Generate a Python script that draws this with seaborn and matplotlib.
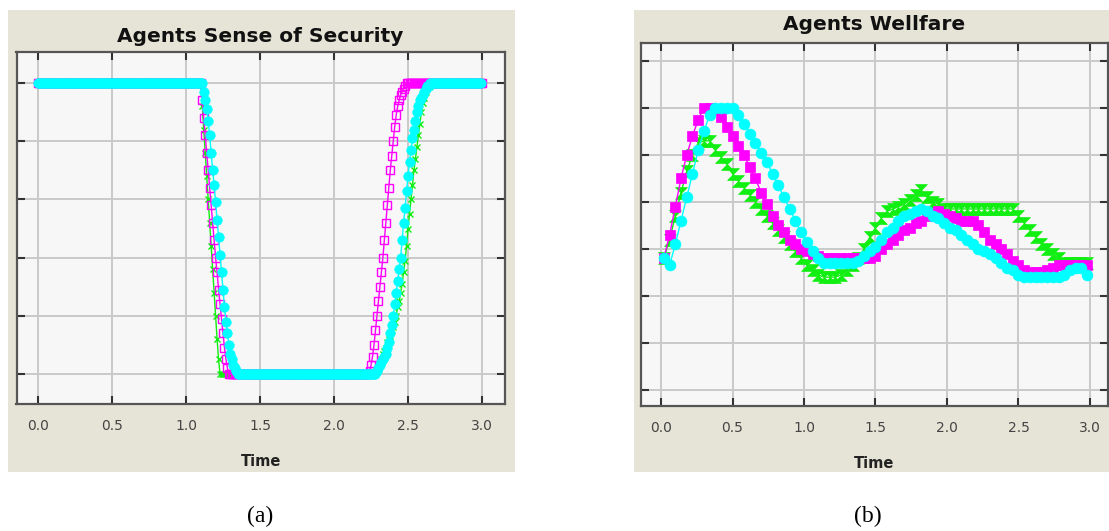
import numpy as np
import pandas as pd
import matplotlib
matplotlib.use("Agg")
import matplotlib.pyplot as plt
from matplotlib.patches import Rectangle
import seaborn as sns

# ---------------------------
# Data
# ---------------------------

# (a) sense of security, sampled every 0.01 time units
sec_time = np.round(np.arange(0, 301) * 0.01, 2)

sec_magenta = ([1.0] * 111
               + [0.94, 0.88, 0.82, 0.76, 0.70, 0.64, 0.58, 0.52, 0.46, 0.40,
                  0.35, 0.29, 0.24, 0.19, 0.14, 0.09, 0.05, 0.02]
               + [0.0] * 95
               + [0.01, 0.03, 0.06, 0.10, 0.15, 0.20, 0.25, 0.30, 0.35, 0.40,
                  0.46, 0.52, 0.58, 0.64, 0.70, 0.75, 0.80, 0.85, 0.89, 0.92,
                  0.94, 0.96, 0.97, 0.98, 0.99, 1.0]
               + [1.0] * 51)

sec_green = ([1.0] * 111
             + [0.92, 0.84, 0.76, 0.68, 0.60, 0.52, 0.44, 0.36, 0.28, 0.20,
                0.12, 0.05, 0.0]
             + [0.0] * 104
             + [0.00, 0.01, 0.02, 0.04, 0.05, 0.07, 0.08, 0.09, 0.11, 0.12,
                0.13, 0.15, 0.16, 0.18, 0.20, 0.23, 0.25, 0.28, 0.31, 0.35,
                0.39, 0.44, 0.50, 0.55, 0.60, 0.65, 0.70, 0.74, 0.78, 0.82,
                0.86, 0.90, 0.93, 0.95, 0.97, 0.99, 1.00]
             + [1.0] * 36)

sec_cyan = ([1.0] * 112
            + [0.97, 0.94, 0.91, 0.87, 0.82, 0.76, 0.70, 0.65, 0.59, 0.53,
               0.47, 0.41, 0.35, 0.29, 0.23, 0.18, 0.14, 0.10, 0.07, 0.05,
               0.03, 0.02, 0.01, 0.0]
            + [0.0] * 92
            + [0.00, 0.01, 0.02, 0.03, 0.04, 0.05, 0.06, 0.07, 0.09, 0.11,
               0.14, 0.17, 0.20, 0.24, 0.28, 0.32, 0.36, 0.40, 0.46, 0.52,
               0.57, 0.63, 0.68, 0.73, 0.77, 0.81, 0.84, 0.87, 0.90, 0.92,
               0.94, 0.95, 0.96, 0.97, 0.98, 0.99, 0.99, 1.00]
            + [1.0] * 34)

# (b) welfare, sampled every 0.04 time units starting at 0.02
wel_time = np.round(0.02 + np.arange(75) * 0.04, 2)

wel_magenta = [2.8, 3.3, 3.9, 4.5, 5.0, 5.4, 5.75, 6.0, 6.0, 5.95,
               5.8, 5.6, 5.4, 5.2, 5.0, 4.75, 4.5, 4.2, 3.95, 3.7,
               3.5, 3.35, 3.2, 3.1, 3.0, 2.95, 2.9, 2.85, 2.8, 2.8,
               2.8, 2.8, 2.8, 2.8, 2.8, 2.8, 2.8, 2.85, 3.0, 3.1,
               3.2, 3.3, 3.4, 3.45, 3.55, 3.6, 3.7, 3.75, 3.8, 3.75,
               3.7, 3.65, 3.6, 3.6, 3.6, 3.5, 3.35, 3.2, 3.1, 3.0,
               2.9, 2.75, 2.65, 2.55, 2.5, 2.5, 2.5, 2.55, 2.6, 2.65,
               2.65, 2.65, 2.65, 2.65, 2.65]

wel_green = [2.8, 3.2, 3.7, 4.2, 4.65, 5.0, 5.25, 5.3, 5.3, 5.1,
             4.95, 4.8, 4.6, 4.45, 4.3, 4.15, 4.0, 3.85, 3.7, 3.55,
             3.4, 3.25, 3.1, 2.95, 2.8, 2.65, 2.55, 2.45, 2.4, 2.4,
             2.4, 2.45, 2.55, 2.65, 2.8, 3.0, 3.25, 3.45, 3.65, 3.8,
             3.85, 3.9, 3.95, 4.05, 4.15, 4.25, 4.1, 4.0, 3.95, 3.85,
             3.85, 3.85, 3.85, 3.85, 3.85, 3.85, 3.85, 3.85, 3.85, 3.85,
             3.85, 3.85, 3.7, 3.55, 3.4, 3.25, 3.1, 3.0, 2.9, 2.8,
             2.7, 2.7, 2.7, 2.7, 2.7]

wel_cyan = [2.8, 2.65, 3.1, 3.6, 4.1, 4.6, 5.1, 5.5, 5.85, 6.0,
            6.0, 6.0, 6.0, 5.85, 5.65, 5.45, 5.25, 5.05, 4.85, 4.6,
            4.35, 4.1, 3.85, 3.6, 3.35, 3.15, 2.95, 2.8, 2.7, 2.7,
            2.7, 2.7, 2.7, 2.7, 2.75, 2.85, 2.95, 3.05, 3.2, 3.35,
            3.45, 3.6, 3.7, 3.75, 3.8, 3.85, 3.8, 3.7, 3.65, 3.55,
            3.45, 3.4, 3.3, 3.2, 3.1, 3.0, 2.95, 2.9, 2.8, 2.7,
            2.6, 2.55, 2.45, 2.4, 2.4, 2.4, 2.4, 2.4, 2.4, 2.4,
            2.45, 2.55, 2.6, 2.6, 2.45]

x_ticks = [0.0, 0.5, 1.0, 1.5, 2.0, 2.5, 3.0]
sec_yticks = [0.0, 0.2, 0.4, 0.6, 0.8, 1.0]
wel_yticks = [0, 1, 2, 3, 4, 5, 6, 7]

MAGENTA = "#ff00ff"
GREEN = "#11ee11"
CYAN = "#00ffff"
BEIGE = "#e6e4d6"
HOURGLASS = [(-1, 1), (1, 1), (-1, -1), (1, -1), (-1, 1)]

# ---------------------------
# Figure
# ---------------------------
sns.set_style("whitegrid")
W, H = 1109, 531
fig = plt.figure(figsize=(W / 100, H / 100), dpi=100, facecolor="white")


def fx(x):
    return x / W


def fy(y):
    return 1 - y / H


# beige panel backgrounds
for x0, x1 in [(8, 515), (634, 1109)]:
    fig.add_artist(Rectangle((fx(x0), fy(472)), fx(x1 - x0), (472 - 10) / H,
                             transform=fig.transFigure, facecolor=BEIGE,
                             edgecolor="none", zorder=-5))

ax1 = fig.add_axes([fx(16.5), fy(404), fx(505 - 16.5), (404 - 52) / H])
ax2 = fig.add_axes([fx(640.7), fy(406), fx(1108 - 640.7), (406 - 43) / H])


def style_axes(ax):
    ax.set_facecolor("#f7f7f7")
    ax.grid(True, color="#c9c9c9", linewidth=1.4)
    for sp in ax.spines.values():
        sp.set_color("#555555")
        sp.set_linewidth(1.6)
        sp.set_visible(True)
    ax.tick_params(direction="in", length=6, width=1.5, color="#333333",
                   top=True, right=True, bottom=True, left=True,
                   labelleft=False, labelsize=10, labelcolor="#444444", pad=11)
    ax.set_xticks(x_ticks)
    ax.set_xticklabels([f"{t:.1f}" for t in x_ticks])
    ax.set_xlabel("Time", fontsize=10.5, fontweight="bold", color="#222222",
                  labelpad=15)
    ax.set_ylabel("")


# (a) Agents Sense of Security
sns.lineplot(x=sec_time, y=sec_green, ax=ax1, color=GREEN, linewidth=1.0,
             marker="x", markersize=5, markeredgecolor=GREEN,
             markeredgewidth=1.0, estimator=None)
sns.lineplot(x=sec_time, y=sec_magenta, ax=ax1, color=MAGENTA, linewidth=1.0,
             marker="s", markersize=5.8, markerfacecolor="none",
             markeredgecolor=MAGENTA, markeredgewidth=1.0, estimator=None)
sns.lineplot(x=sec_time[:len(sec_cyan)], y=sec_cyan, ax=ax1, color=CYAN,
             linewidth=1.0, marker="o", markersize=6.8, markeredgecolor=CYAN,
             markeredgewidth=0.5, estimator=None)
ax1.set_xlim(-0.145, 3.155)
ax1.set_ylim(-0.103, 1.1065)
ax1.set_yticks(sec_yticks)
style_axes(ax1)

# (b) Agents Wellfare
sns.lineplot(x=wel_time, y=wel_green, ax=ax2, color=GREEN, linewidth=1.0,
             marker=HOURGLASS, markersize=8.5, markeredgecolor=GREEN,
             markeredgewidth=0.5, estimator=None)
sns.lineplot(x=wel_time, y=wel_magenta, ax=ax2, color=MAGENTA, linewidth=1.0,
             marker="s", markersize=6.5, markeredgecolor=MAGENTA,
             markeredgewidth=0.5, estimator=None)
sns.lineplot(x=wel_time, y=wel_cyan, ax=ax2, color=CYAN, linewidth=1.0,
             marker="o", markersize=7.8, markeredgecolor=CYAN,
             markeredgewidth=0.5, estimator=None)
ax2.set_xlim(-0.142, 3.126)
ax2.set_ylim(-0.34, 7.38)
ax2.set_yticks(wel_yticks)
style_axes(ax2)

# titles and captions
fig.text(fx(260), fy(36), "Agents Sense of Security", ha="center", va="center",
         fontsize=14.5, fontweight="bold", color="#111111")
fig.text(fx(874), fy(25), "Agents Wellfare", ha="center", va="center",
         fontsize=14.5, fontweight="bold", color="#111111")
fig.text(fx(260), fy(516), "(a)", ha="center", va="center", fontsize=17,
         family="Liberation Serif", color="black")
fig.text(fx(868), fy(516), "(b)", ha="center", va="center", fontsize=17,
         family="Liberation Serif", color="black")

fig.savefig("out.png", dpi=100, facecolor="white")
